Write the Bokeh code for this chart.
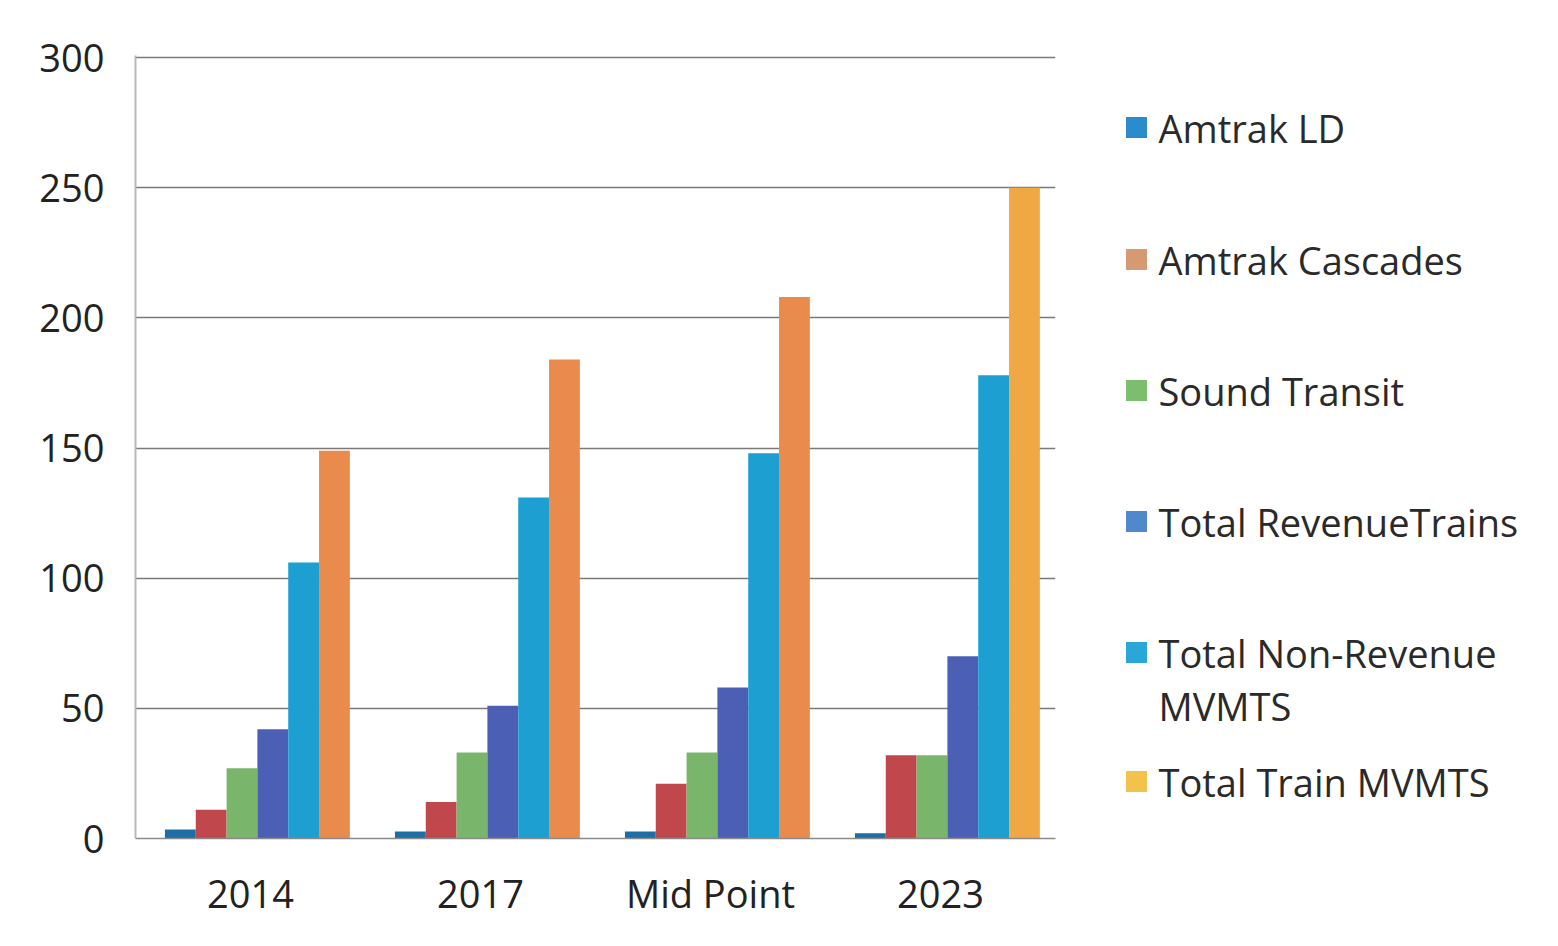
from bokeh.plotting import figure
from bokeh.layouts import row
from bokeh.models import ColumnDataSource, FactorRange, Range1d, SingleIntervalTicker
from bokeh.core.properties import value
from bokeh.transform import dodge
from bokeh.embed import file_html
from bokeh.resources import INLINE

categories = ["2014", "2017", "Mid Point", "2023"]
series_names = ["Amtrak LD", "Amtrak Cascades", "Sound Transit", "Total  RevenueTrains",
                "Total Non-Revenue\nMVMTS", "Total Train MVMTS"]
amtrak_ld = [3.5, 2.7, 2.7, 2.0]
amtrak_cascades = [11, 14, 21, 32]
sound_transit = [27, 33, 33, 32]
total_revenue = [42, 51, 58, 70]
total_nonrevenue = [106, 131, 148, 178]
total_train = [149, 184, 208, 250]

bar_colors = [
    ["#1c6ea4"] * 4,
    ["#c0474b"] * 4,
    ["#7ab56c"] * 4,
    ["#4b5fb5"] * 4,
    ["#1e9fd2"] * 4,
    ["#e98b4c", "#e98b4c", "#e98b4c", "#f0a844"],
]
legend_colors = ["#2a8ccb", "#d59a72", "#7bbf6e", "#4f89cc", "#2aa6d8", "#f2c24a"]
series_values = [amtrak_ld, amtrak_cascades, sound_transit, total_revenue, total_nonrevenue, total_train]

FONT = "Open Sans"
FS = "38px"
H = 938
TOP, FH = 55, 783

p = figure(x_range=FactorRange(*categories), y_range=Range1d(0, 300.8),
           frame_width=920, frame_height=FH, output_backend="svg", toolbar_location=None,
           min_border_left=135, min_border_top=TOP, min_border_bottom=H - TOP - FH, min_border_right=10)
p.x_range.range_padding = 0
p.background_fill_color = "white"
p.border_fill_color = "white"
p.outline_line_color = None

bw = 0.134
for i, (vals, cols) in enumerate(zip(series_values, bar_colors)):
    src = ColumnDataSource(dict(cat=categories, val=vals, color=cols))
    p.vbar(x=dodge("cat", (i - 2.5) * bw + 0.03, range=p.x_range), top="val", width=bw,
           source=src, fill_color="color", line_color=None)

p.yaxis.ticker = SingleIntervalTicker(interval=50)
p.yaxis.major_label_text_font = FONT
p.yaxis.major_label_text_font_size = FS
p.yaxis.major_label_text_color = "#222222"
p.yaxis.axis_line_color = "#b8b8b8"
p.yaxis.axis_line_width = 2
p.yaxis.major_tick_line_color = None
p.yaxis.minor_tick_line_color = None
p.yaxis.major_label_standoff = 25

p.xaxis.major_label_text_font = FONT
p.xaxis.major_label_text_font_size = FS
p.xaxis.major_label_text_color = "#222222"
p.xaxis.axis_line_color = "#8a8a8a"
p.xaxis.axis_line_width = 1.5
p.xaxis.major_tick_line_color = None
p.xaxis.minor_tick_line_color = None
p.xaxis.major_label_standoff = 22

p.xgrid.grid_line_color = None
p.ygrid.grid_line_color = "#7a7a7a"
p.ygrid.grid_line_width = 1.5

# ---- legend panel (separate figure; its frame aligns with the main frame, y downward in page px) ----
LW = 485
lg = figure(width=LW, height=H, x_range=Range1d(0, LW), y_range=Range1d(TOP + FH, TOP),
            output_backend="svg", toolbar_location=None, min_border=0,
            min_border_top=TOP, min_border_bottom=H - TOP - FH)
lg.axis.visible = False
lg.grid.visible = False
lg.outline_line_color = None
lg.background_fill_color = "white"
lg.border_fill_color = "white"

item_y = [127, 259, 390, 521, 652, 781]
line_gap = 53
sq_x, txt_x = 71, 93
lg.rect(x=[sq_x] * len(item_y), y=item_y, width=21, height=21, fill_color=legend_colors, line_color=None)
tx, ty, tt = [], [], []
for name, yy in zip(series_names, item_y):
    for k, line in enumerate(name.split("\n")):
        tx.append(txt_x)
        ty.append(yy + k * line_gap)
        tt.append(line)
lg.text(x=tx, y=ty, text=tt, text_font=value(FONT), text_font_size=FS,
        text_baseline="middle", text_align="left", text_color="#2a2a2a")

layout = row(p, lg, spacing=0)
open("out.html", "w").write(file_html(layout, INLINE))
